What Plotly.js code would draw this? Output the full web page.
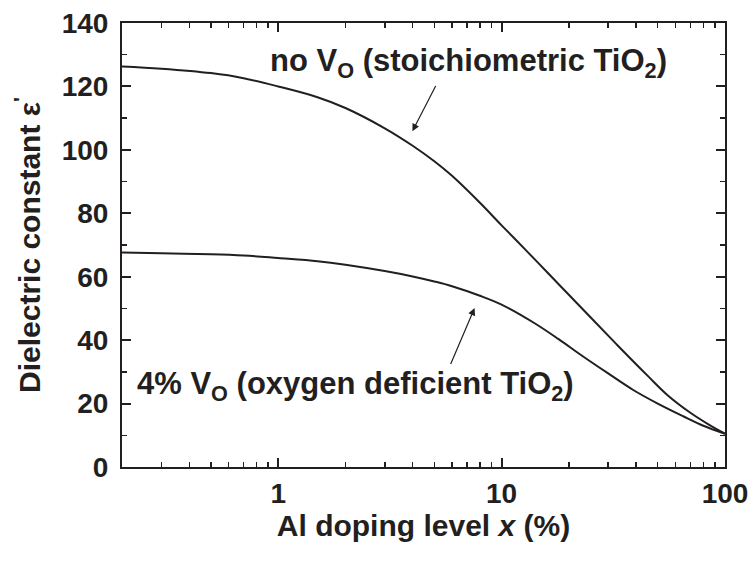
<!DOCTYPE html>
<html>
<head>
<meta charset="utf-8">
<script src="https://cdn.plot.ly/plotly-3.0.1.min.js"></script>
<style>html,body{margin:0;padding:0;background:#fff;}#chart{width:753px;height:563px;}</style>
</head>
<body>
<div id="chart"></div>
<script>
// Al doping level x (%)
const xStoich = [0.2, 0.3, 0.5, 0.7, 1, 1.5, 2, 3, 4, 5, 6, 8, 10, 13, 16, 20, 25, 33, 45, 55, 70, 85, 100];
// Dielectric constant, no oxygen vacancies (stoichiometric TiO2)
const epsStoich = [126.3, 125.6, 124.2, 122.6, 120.0, 116.6, 113.2, 106.8, 101.3, 96.4, 91.8, 83.3, 76.2, 68.0, 61.4, 54.3, 47.2, 38.4, 28.8, 22.8, 17.1, 13.3, 10.5];

const xDefic = [0.2, 0.3, 0.5, 0.7, 1, 1.5, 2, 3, 4, 5, 6, 8, 10, 14, 18, 23, 30, 39, 50, 65, 80, 100];
// Dielectric constant, 4% oxygen vacancies (oxygen deficient TiO2)
const epsDefic = [67.6, 67.4, 67.1, 66.7, 65.9, 64.9, 63.8, 61.8, 60.1, 58.5, 57.0, 54.0, 51.2, 45.4, 40.3, 35.0, 29.5, 24.2, 20.0, 16.0, 13.0, 10.5];

const labelStoich = 'no V<sub>O</sub> (stoichiometric TiO<sub>2</sub>)';
const labelDefic = '4% V<sub>O</sub> (oxygen deficient TiO<sub>2</sub>)';

const ink = '#231f20';
const fontFam = 'Liberation Sans, Arial, Helvetica, sans-serif';

const traces = [
  {x: xStoich, y: epsStoich, type: 'scatter', mode: 'lines', line: {color: ink, width: 2, shape: 'spline', smoothing: 1}, showlegend: false, hoverinfo: 'skip'},
  {x: xDefic, y: epsDefic, type: 'scatter', mode: 'lines', line: {color: ink, width: 2, shape: 'spline', smoothing: 1}, showlegend: false, hoverinfo: 'skip'}
];

const axisCommon = {
  showline: true, linecolor: ink, linewidth: 2, mirror: 'ticks',
  ticks: 'inside', tickcolor: ink, tickwidth: 2, ticklen: 9,
  showgrid: false, zeroline: false,
  tickfont: {family: fontFam, size: 28, color: ink, weight: 'bold'}
};

const layout = {
  width: 753, height: 563,
  margin: {l: 122, r: 28, t: 23, b: 96},
  paper_bgcolor: '#fff', plot_bgcolor: '#fff',
  font: {family: fontFam, color: ink},
  xaxis: Object.assign({}, axisCommon, {
    type: 'log', range: [Math.log10(0.2), 2],
    tickmode: 'linear', tick0: 0, dtick: 1,
    minor: {dtick: 'D1', ticks: 'inside', ticklen: 5, tickcolor: ink, tickwidth: 1.5, showgrid: false},
    ticklabelstandoff: 0,
    title: {text: 'Al doping level <i>x</i> (%)', font: {family: fontFam, size: 30, color: ink, weight: 'bold'}, standoff: 0}
  }),
  yaxis: Object.assign({}, axisCommon, {
    range: [0, 140], tickmode: 'linear', tick0: 0, dtick: 20,
    minor: {dtick: 10, ticks: 'inside', ticklen: 5, tickcolor: ink, tickwidth: 1.5, showgrid: false},
    ticklabelstandoff: 6,
    title: {text: 'Dielectric constant ε<sup>\'</sup>', font: {family: fontFam, size: 30, color: ink, weight: 'bold'}, standoff: 12}
  }),
  annotations: [
    {xref: 'paper', yref: 'paper', x: 0.575, y: 0.911, text: labelStoich, showarrow: false,
     xanchor: 'center', yanchor: 'middle', font: {family: fontFam, size: 31, color: ink, weight: 'bold'}},
    {xref: 'paper', yref: 'paper', x: 0.388, y: 0.182, text: labelDefic, showarrow: false,
     xanchor: 'center', yanchor: 'middle', font: {family: fontFam, size: 31, color: ink, weight: 'bold'}},
    {xref: 'x', yref: 'y', axref: 'x', ayref: 'y', x: Math.log10(3.99), y: 105.9, ax: Math.log10(5.11), ay: 120.6,
     text: '', showarrow: true, arrowhead: 2, arrowsize: 1.2, arrowwidth: 1.2, arrowcolor: ink, standoff: 0},
    {xref: 'x', yref: 'y', axref: 'x', ayref: 'y', x: Math.log10(7.57), y: 50.1, ax: Math.log10(5.88), ay: 32.0,
     text: '', showarrow: true, arrowhead: 2, arrowsize: 1.2, arrowwidth: 1.2, arrowcolor: ink, standoff: 0}
  ]
};

Plotly.newPlot('chart', traces, layout, {staticPlot: true, displayModeBar: false});
</script>
</body>
</html>
